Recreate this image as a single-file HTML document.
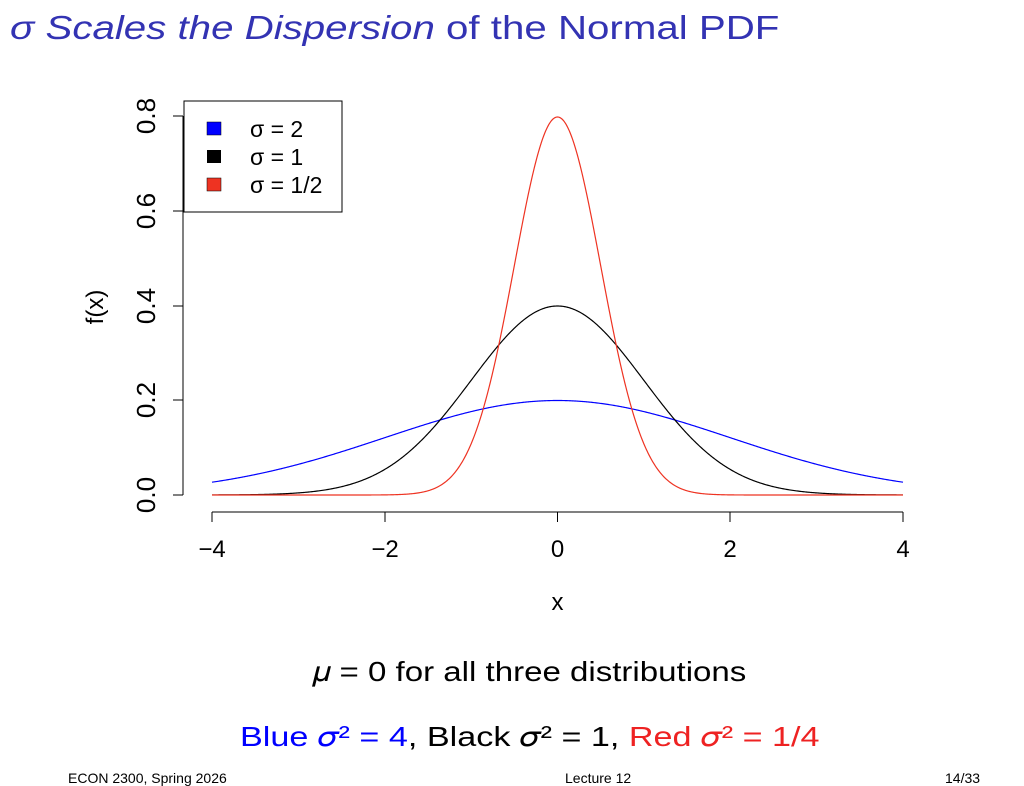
<!DOCTYPE html>
<html><head><meta charset="utf-8"><style>
body{margin:0;background:#fff;width:1024px;height:774px;overflow:hidden;position:relative;font-family:"Liberation Sans",sans-serif}
.t{position:absolute;white-space:nowrap;transform-origin:left top}
</style></head><body>
<div class="t" style="left:10px;top:9px;font-size:33px;color:#3333b3;transform:scaleX(1.22)"><i>σ Scales the Dispersion</i> of the Normal PDF</div>
<svg width="1024" height="774" style="position:absolute;left:0;top:0" font-family="Liberation Sans, sans-serif">
<g stroke="#000" stroke-width="1" fill="none">
<line x1="183" y1="116" x2="183" y2="495"/>
<line x1="173" y1="116" x2="183" y2="116"/>
<line x1="173" y1="211" x2="183" y2="211"/>
<line x1="173" y1="306" x2="183" y2="306"/>
<line x1="173" y1="400" x2="183" y2="400"/>
<line x1="173" y1="495" x2="183" y2="495"/>
<line x1="212" y1="512" x2="903" y2="512"/>
<line x1="212" y1="512" x2="212" y2="522"/>
<line x1="385" y1="512" x2="385" y2="522"/>
<line x1="557.5" y1="512" x2="557.5" y2="522"/>
<line x1="730" y1="512" x2="730" y2="522"/>
<line x1="903" y1="512" x2="903" y2="522"/>
</g>
<g font-size="26" text-anchor="middle">
<text transform="translate(155,116) rotate(-90)">0.8</text>
<text transform="translate(155,211) rotate(-90)">0.6</text>
<text transform="translate(155,306) rotate(-90)">0.4</text>
<text transform="translate(155,400) rotate(-90)">0.2</text>
<text transform="translate(155,495) rotate(-90)">0.0</text>
</g>
<g font-size="24" text-anchor="middle">
<text x="212" y="557">−4</text><text x="385" y="557">−2</text><text x="557.5" y="557">0</text><text x="730" y="557">2</text><text x="903" y="557">4</text>
<text x="557.5" y="610">x</text>
<text transform="translate(103,307) rotate(-90)">f(x)</text>
</g>
<path id="b" fill="none" stroke="#0000ff" stroke-width="1.2"/>
<path id="k" fill="none" stroke="#000" stroke-width="1.2"/>
<path id="r" fill="none" stroke="#ee3322" stroke-width="1.2"/>
<rect x="184" y="101" width="158" height="111" fill="#fff" stroke="#000"/>
<rect x="207" y="122" width="14" height="13" fill="#0000ff" stroke="#000" stroke-width="0.5"/>
<rect x="207" y="150" width="14" height="13" fill="#000"/>
<rect x="207" y="178" width="14" height="13" fill="#ee3322" stroke="#000" stroke-width="0.5"/>
<g font-size="23"><text x="250" y="137">σ = 2</text><text x="250" y="165">σ = 1</text><text x="250" y="193">σ = 1/2</text></g>
</svg>
<div class="t" style="left:312px;top:656px;font-size:28px;transform:scaleX(1.18)">𝜇 = 0 for all three distributions</div>
<div class="t" style="left:240px;top:721px;font-size:28px;transform:scaleX(1.22)"><span style="color:#0000ff">Blue 𝜎² = 4</span>, Black 𝜎² = 1, <span style="color:#ee2222">Red 𝜎² = 1/4</span></div>
<div class="t" style="left:68px;top:770px;font-size:14px">ECON 2300, Spring 2026</div>
<div class="t" style="left:565px;top:770px;font-size:14px">Lecture 12</div>
<div class="t" style="left:945px;top:770px;font-size:14px">14/33</div>
<script>
function p(s){var d="";for(var i=0;i<=800;i++){var x=-4+i*0.01;var y=Math.exp(-x*x/(2*s*s))/(s*Math.sqrt(2*Math.PI));d+=(i?"L":"M")+(557.5+x*86.375).toFixed(2)+","+(495-y*473.75).toFixed(2);}return d;}
document.getElementById("b").setAttribute("d",p(2));
document.getElementById("k").setAttribute("d",p(1));
document.getElementById("r").setAttribute("d",p(0.5));
</script>
</body></html>
